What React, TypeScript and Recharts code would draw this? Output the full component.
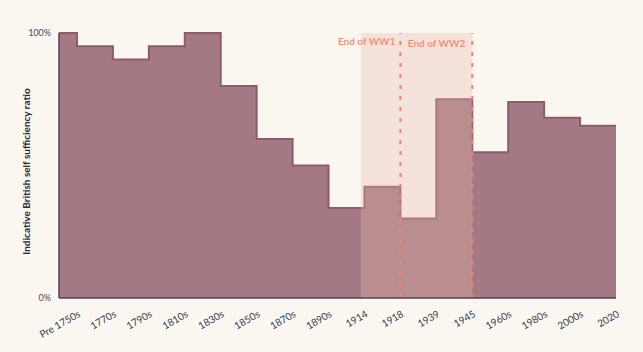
import React from "react";
import { AreaChart, Area, XAxis, YAxis, ReferenceArea, ReferenceLine, Label } from "recharts";

const categories = ["Pre 1750s", "1770s", "1790s", "1810s", "1830s", "1850s", "1870s", "1890s", "1914", "1918", "1939", "1945", "1960s", "1980s", "2000s", "2020"];
// self sufficiency ratio (%) for the period ending at each label
const ratios = [100, 95, 90, 95, 100, 80, 60, 50, 34, 42, 30, 75, 55, 74, 68, 65];
const startRatio = 100;
const yTicks = [0, 100];

const data = [{ x: 0.5, v: startRatio }, ...categories.map((c, i) => ({ x: i + 1, v: ratios[i] }))];
const xTicks = categories.map((_, i) => i + 1);

const YLabel = (props: any) => {
  const vb = props.viewBox || { x: 0, y: 33, width: 59, height: 265 };
  const cx = 26;
  const cy = vb.y + vb.height / 2 + 6;
  return (
    <text x={cx} y={cy} transform={`rotate(-90, ${cx}, ${cy})`} textAnchor="middle" dominantBaseline="central" fontSize={10} fontWeight={700} fill="#2b2a3a" fontFamily="Lato, 'Noto Sans', sans-serif">
      Indicative British self sufficiency ratio
    </text>
  );
};

const XTick = (props: any) => {
  const { x, y, payload } = props;
  const tx = x + 4;
  const ty = y + 10;
  return (
    <text x={tx} y={ty} transform={`rotate(-30, ${tx}, ${ty})`} textAnchor="end" fontSize={10} fill="#3a3a52" fontFamily="Lato, 'Noto Sans', sans-serif">
      {categories[payload.value - 1]}
    </text>
  );
};

export default function App() {
  return (
    <div style={{ position: "fixed", left: 0, top: 0, width: 643, height: 352, background: "#faf7f1" }}>
      <AreaChart width={643} height={352} data={data} margin={{ top: 33, right: 27, bottom: 24, left: 0 }}>
        <XAxis dataKey="x" type="number" domain={[0.5, 16]} ticks={xTicks} tick={<XTick />} tickLine={false} axisLine={{ stroke: "#4d4456", strokeWidth: 1.5 }} interval={0} height={30} allowDataOverflow />
        <YAxis type="number" domain={[0, 100]} ticks={yTicks} width={59} tickFormatter={(v: number) => `${v}%`} tick={{ fontSize: 9, fill: "#4a4a5e", fontFamily: "Lato, 'Noto Sans', sans-serif" }} tickLine={false} axisLine={{ stroke: "#4d4456", strokeWidth: 1.5 }}>
          <Label content={<YLabel />} />
        </YAxis>
        <Area type="stepBefore" dataKey="v" stroke="#8c5c68" strokeWidth={2} fill="#a47983" fillOpacity={1} isAnimationActive={false} />
        <ReferenceArea x1={8.9} x2={12} y1={0} y2={100} fill="#e9b8ae" fillOpacity={0.32} stroke="none" />
        <ReferenceLine x={10} stroke="#ec8670" strokeWidth={2} strokeDasharray="4 7">
          <Label value="End of WW1" position="insideTopRight" offset={5} fill="#ef8a72" fontSize={10} fontWeight={600} fontFamily="Lato, 'Noto Sans', sans-serif" />
        </ReferenceLine>
        <ReferenceLine x={12} stroke="#ec8670" strokeWidth={2} strokeDasharray="4 7">
          <Label value="End of WW2" position="insideTopRight" offset={7} fill="#ef8a72" fontSize={10} fontWeight={600} fontFamily="Lato, 'Noto Sans', sans-serif" />
        </ReferenceLine>
      </AreaChart>
    </div>
  );
}
